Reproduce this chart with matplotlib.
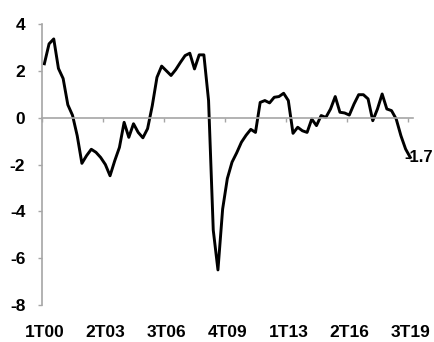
import matplotlib
matplotlib.use("Agg")
from matplotlib import pyplot as plt
import numpy as np

# Quarterly series, 1T00 .. 3T19
values = [2.3, 3.15, 3.36, 2.1, 1.67, 0.55, 0.1, -0.77, -1.95, -1.62,
          -1.35, -1.48, -1.7, -2.0, -2.48, -1.84, -1.27, -0.2, -0.84, -0.26,
          -0.63, -0.86, -0.47, 0.51, 1.72, 2.2, 2.0, 1.8, 2.05, 2.36,
          2.65, 2.75, 2.08, 2.68, 2.68, 0.73, -4.8, -6.5, -3.9, -2.6,
          -1.9, -1.5, -1.05, -0.75, -0.5, -0.63, 0.65, 0.73, 0.63, 0.87,
          0.9, 1.04, 0.73, -0.67, -0.41, -0.56, -0.63, -0.06, -0.34, 0.09,
          0.01, 0.37, 0.9, 0.23, 0.2, 0.11, 0.58, 0.98, 0.98, 0.8,
          -0.13, 0.37, 1.01, 0.37, 0.3, -0.06, -0.77, -1.34, -1.7]
tick_labels = ["1T00", "2T03", "3T06", "4T09", "1T13", "2T16", "3T19"]
label_step = 13
last_label = "-1.7"

plt.rcParams['font.family'] = ['Liberation Sans', 'DejaVu Sans']
font = {'fontsize': 12.5, 'fontweight': 'bold'}
grey = "#a6a6a6"

x = np.arange(len(values))

fig = plt.figure(figsize=(4.35, 3.42), dpi=100)
ax = fig.add_axes([0.0966, 0.108, 0.852, 0.822])

ax.plot(x, values, color="black", linewidth=2.1, solid_joinstyle="round")

ax.set_xlim(-0.5, len(values) - 0.5)
ax.set_ylim(-8, 4)

# y axis
ax.set_yticks(np.arange(-8, 5, 2))
ax.set_yticklabels([str(v) for v in range(-8, 5, 2)], fontdict=font)
ax.tick_params(axis='y', direction='out', length=3, width=1, color=grey, pad=9)
ax.spines['left'].set_color(grey)
ax.spines['left'].set_linewidth(1.2)

# x axis line sits at zero, labels stay at the bottom
ax.spines['bottom'].set_position(('data', 0))
ax.spines['bottom'].set_color(grey)
ax.spines['bottom'].set_linewidth(1.2)
ax.set_xticks(np.arange(0, len(values), label_step) - 0.5)
ax.tick_params(axis='x', direction='out', length=3, width=1, color=grey, labelbottom=False)
for s in ['top', 'right']:
    ax.spines[s].set_visible(False)

sec = ax.secondary_xaxis('bottom')
sec.set_xticks(np.arange(0, len(values), label_step))
sec.set_xticklabels(tick_labels, fontdict=font)
sec.tick_params(length=0, pad=14.5)
sec.spines['bottom'].set_visible(False)

ax.annotate(last_label, (x[-1], values[-1]), xytext=(-4, 0), textcoords='offset points',
            ha='left', va='center', fontsize=12, fontweight='bold')

fig.savefig("out.png", dpi=100)
